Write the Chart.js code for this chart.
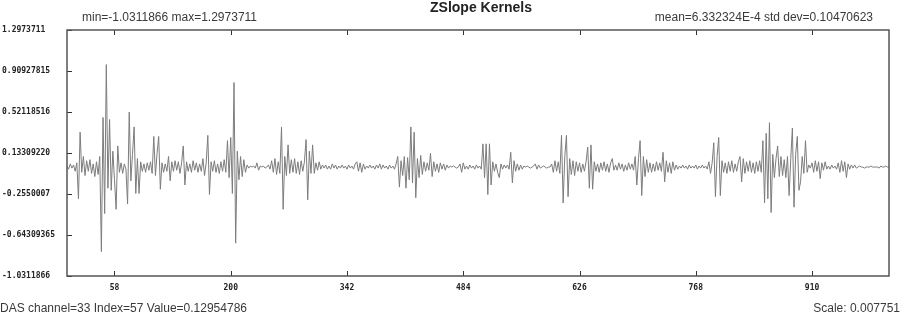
<!DOCTYPE html>
<html><head><meta charset="utf-8">
<script src="https://cdn.jsdelivr.net/npm/chart.js@4.4.0/dist/chart.umd.min.js"></script>
<style>html,body{margin:0;padding:0;background:#fff;}#wrap{width:900px;height:315px;position:relative;}</style>
</head><body><div id="wrap"><canvas id="c" width="900" height="315"></canvas></div>
<script>
const titleText = "ZSlope Kernels";
const statsLeft = "min=-1.0311866 max=1.2973711";
const statsRight = "mean=6.332324E-4 std dev=0.10470623";
const footLeft = "DAS channel=33 Index=57 Value=0.12954786";
const footRight = "Scale: 0.007751";

const indexStep = 2;
const xMin = 0, xMax = 1004;
const yMin = -1.0311866, yMax = 1.2973711;
const xTickValues = [58, 200, 342, 484, 626, 768, 910];
const yTickValues = [1.2973711, 0.90927815, 0.52118516, 0.13309220, -0.2550007, -0.64309365, -1.0311866];
const yTickLabels = ["1.2973711", "0.90927815", "0.52118516", "0.13309220", "-0.2550007", "-0.64309365", "-1.0311866"];

const kernelValues = [
 0.01,-0.02,0.03,-0.01,0.02,-0.04,0.04,-0.30,0.33,-0.05,
 0.10,-0.08,0.06,-0.04,0.07,-0.06,0.03,-0.09,0.05,-0.07,
 0.10,-0.80,0.47,-0.44,0.97,-0.20,0.45,-0.22,0.15,-0.12,
 -0.40,0.20,-0.05,0.04,-0.06,0.03,-0.02,-0.35,0.52,-0.13,
 0.12,0.38,-0.25,0.08,-0.25,0.05,-0.04,0.03,-0.05,0.04,
 -0.03,0.05,-0.06,0.29,-0.08,0.13,0.29,-0.21,0.04,-0.05,
 0.03,-0.04,0.10,-0.13,0.05,-0.04,0.06,-0.03,0.05,-0.06,
 0.04,0.20,-0.17,0.05,-0.04,0.03,-0.05,0.06,-0.03,0.04,
 -0.05,0.03,-0.04,0.08,-0.08,0.04,0.30,-0.26,0.05,-0.04,
 0.06,-0.05,0.03,-0.06,0.05,-0.04,0.07,-0.05,0.25,-0.10,
 0.28,-0.25,0.80,-0.72,0.15,-0.12,0.10,-0.09,0.07,-0.05,
 0.02,-0.01,0.01,0.00,0.01,-0.01,0.04,-0.03,0.01,0.00,
 0.01,-0.01,0.00,0.02,-0.02,0.06,-0.05,0.08,-0.07,0.05,
 -0.06,0.38,-0.40,0.10,-0.08,0.21,-0.06,0.07,-0.05,0.08,
 -0.06,0.05,-0.07,0.06,-0.04,0.05,0.26,-0.31,0.15,-0.06,
 0.21,-0.06,0.04,-0.03,0.05,-0.02,0.02,-0.01,0.02,-0.02,
 0.01,-0.02,0.03,-0.01,0.02,-0.02,0.01,-0.01,0.02,-0.01,
 0.01,-0.02,0.02,-0.01,0.01,-0.02,0.03,0.05,-0.04,0.04,
 -0.05,0.03,-0.02,0.01,-0.01,0.02,-0.01,0.01,-0.02,0.02,
 -0.01,0.03,-0.02,0.02,-0.01,0.01,-0.02,0.02,-0.01,0.01,
 -0.02,0.03,0.10,-0.19,0.06,-0.08,0.10,-0.20,0.09,-0.12,
 0.38,-0.15,0.33,-0.29,0.08,-0.10,0.11,-0.07,0.05,-0.04,
 0.04,-0.03,0.13,-0.09,0.05,-0.04,0.03,-0.05,0.04,-0.02,
 0.03,-0.03,0.02,-0.01,0.01,0.00,0.01,0.00,-0.01,0.00,
 0.03,-0.05,0.04,-0.02,0.01,-0.02,0.02,-0.01,0.01,-0.02,
 0.02,-0.01,0.01,-0.02,0.22,-0.10,0.22,-0.26,0.22,-0.17,
 0.05,-0.04,0.03,-0.05,-0.10,0.03,-0.02,0.02,-0.01,0.02,
 -0.02,0.14,-0.15,0.06,-0.04,0.03,-0.03,0.02,-0.02,0.01,
 0.00,0.01,0.00,-0.01,0.00,0.01,0.03,-0.02,0.02,-0.01,
 0.00,0.01,0.00,-0.01,0.00,0.00,0.03,-0.05,0.06,-0.04,
 0.05,-0.06,0.30,-0.34,0.10,0.30,-0.28,0.08,-0.07,0.06,
 -0.08,0.05,-0.04,0.04,-0.05,0.03,-0.04,0.05,0.19,-0.20,
 0.21,-0.21,0.05,-0.04,0.03,-0.05,0.04,-0.03,0.05,-0.04,
 0.03,-0.05,0.04,0.08,-0.03,0.02,-0.03,0.04,-0.02,0.03,
 -0.04,0.02,-0.03,0.04,-0.02,0.03,-0.03,0.10,-0.17,0.08,
 0.25,-0.27,0.10,-0.09,0.07,-0.05,0.04,-0.05,0.03,-0.04,
 0.05,-0.03,0.04,-0.04,0.14,-0.14,0.06,-0.05,0.04,-0.06,
 0.05,-0.03,0.02,-0.02,0.01,-0.01,0.02,-0.01,0.01,-0.02,
 0.02,-0.01,0.01,-0.01,0.02,-0.02,0.01,-0.01,0.02,-0.01,
 0.01,-0.02,0.05,-0.06,0.04,0.23,-0.28,0.10,0.28,-0.27,
 0.06,-0.05,0.04,-0.06,0.05,-0.04,0.06,-0.05,0.03,-0.04,
 0.05,0.10,-0.14,0.08,-0.06,0.05,-0.04,0.06,-0.05,0.04,
 -0.06,0.05,-0.04,0.06,-0.05,0.25,-0.34,0.32,-0.30,0.42,
 -0.43,0.12,-0.10,0.08,0.20,-0.09,0.10,-0.08,0.07,-0.10,
 0.10,-0.27,0.08,0.37,-0.38,0.12,0.29,-0.22,-0.14,0.10,
 -0.06,0.25,-0.05,0.02,-0.01,0.04,-0.05,0.06,-0.04,0.05,
 -0.11,0.04,-0.03,0.05,-0.02,0.01,-0.02,0.02,-0.01,0.01,
 -0.02,0.04,-0.05,0.06,-0.04,0.05,-0.10,0.03,-0.02,0.02,
 -0.01,0.02,-0.01,0.00,0.01,0.00,0.00,-0.01,0.00,0.00,
 0.00,0.01,0.00,0.00,0.00,0.00,-0.01,0.01,0.00,0.00,
 0.01,0.00,0.00
];

const tickFont = { family: "'DejaVu Sans Mono', monospace", size: 8, weight: 'bold' };

const decorPlugin = {
  id: 'decor',
  afterDraw(chart) {
    const ctx = chart.ctx;
    const a = chart.chartArea;
    const xs = chart.scales.x, ys = chart.scales.y;
    ctx.save();
    ctx.strokeStyle = '#333';
    ctx.lineWidth = 1;
    ctx.beginPath();
    xTickValues.forEach(v => {
      const px = Math.round(xs.getPixelForValue(v)) + 0.5;
      ctx.moveTo(px, a.bottom); ctx.lineTo(px, a.bottom - 5);
      ctx.moveTo(px, a.top); ctx.lineTo(px, a.top + 5);
    });
    yTickValues.forEach(v => {
      const py = Math.round(ys.getPixelForValue(v)) + 0.5;
      ctx.moveTo(a.left, py); ctx.lineTo(a.left + 5, py);
    });
    ctx.stroke();
    ctx.strokeStyle = '#555';
    ctx.lineWidth = 1.5;
    ctx.strokeRect(a.left, a.top, a.right - a.left, a.bottom - a.top);
    ctx.fillStyle = '#222';
    ctx.textBaseline = 'alphabetic';
    ctx.font = "bold 14px 'Liberation Sans', Arial, sans-serif";
    ctx.textAlign = 'center';
    ctx.fillText(titleText, 481, 12);
    ctx.font = "12px 'Liberation Sans', Arial, sans-serif";
    ctx.fillStyle = '#3a3a3a';
    ctx.textAlign = 'left';
    ctx.fillText(statsLeft, 82, 21);
    ctx.textAlign = 'right';
    ctx.fillText(statsRight, 873, 21);
    ctx.textAlign = 'left';
    ctx.fillText(footLeft, 0, 312);
    ctx.textAlign = 'right';
    ctx.fillText(footRight, 900, 312);
    ctx.restore();
  }
};

new Chart(document.getElementById('c'), {
  type: 'line',
  data: {
    datasets: [{
      data: kernelValues.map((v, i) => ({ x: i * indexStep, y: v })),
      borderColor: '#7c7c7c',
      borderWidth: 1,
      pointRadius: 0,
      tension: 0,
      fill: false
    }]
  },
  options: {
    responsive: false,
    animation: false,
    devicePixelRatio: 1,
    layout: { padding: { left: 2, right: 11, top: 30, bottom: 0 } },
    plugins: { legend: { display: false }, tooltip: { enabled: false }, title: { display: false } },
    scales: {
      x: {
        type: 'linear', min: xMin, max: xMax,
        afterBuildTicks: s => { s.ticks = xTickValues.map(v => ({ value: v })); },
        afterFit: s => { s.height = 39; },
        grid: { display: false, drawTicks: false },
        border: { display: false },
        ticks: { font: tickFont, color: '#222', padding: 7, maxRotation: 0, autoSkip: false,
                 callback: v => String(v) }
      },
      y: {
        type: 'linear', min: yMin, max: yMax,
        afterBuildTicks: s => { s.ticks = yTickValues.map(v => ({ value: v })); },
        afterFit: s => { s.width = 65; },
        grid: { display: false, drawTicks: false },
        border: { display: false },
        ticks: { font: tickFont, color: '#222', padding: 0, crossAlign: 'far', autoSkip: false,
                 callback: (v, i) => yTickLabels[i] }
      }
    }
  },
  plugins: [decorPlugin]
});
</script>
</body></html>
